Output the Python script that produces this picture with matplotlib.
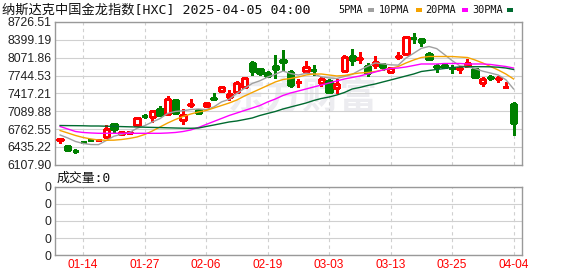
import numpy as np
import matplotlib.pyplot as plt
from matplotlib.patches import Rectangle

# daily candles, 2025-01-08 .. 2025-04-04
opens = [6566, 6456, 6368, 6525, 6560, 6552, 6622, 6855, 6680, 6690,
         6836, 7005, 6989, 7124, 7038, 7295, 6932, 7208, 7112, 7176,
         7330, 7466, 7345, 7442, 7534, 7965, 7864, 7785, 7919, 8029,
         7803, 7620, 7833, 7846, 7602, 7644, 7510, 7833, 8103, 8055,
         7925, 7937, 7955, 7814, 8085, 8134, 8440, 8415, 8134, 7912,
         7937, 7880, 7865, 7919, 7859, 7613, 7712, 7680, 7534, 7222]
highs = [6574, 6475, 6396, 6548, 6565, 6562, 6836, 6864, 6726, 6732,
         6989, 7033, 7112, 7185, 7370, 7300, 7125, 7308, 7125, 7240,
         7430, 7552, 7479, 7644, 7717, 8011, 7882, 7830, 8121, 8213,
         7846, 7680, 8011, 7937, 7723, 7681, 7681, 8121, 8226, 8170,
         7969, 8108, 7980, 7906, 8170, 8470, 8530, 8420, 8182, 7950,
         7945, 7937, 7925, 8042, 7877, 7708, 7754, 7736, 7632, 7264]
lows = [6515, 6372, 6328, 6500, 6548, 6550, 6616, 6695, 6652, 6666,
        6836, 6959, 6897, 7010, 7038, 7033, 6855, 7172, 7045, 7170,
        7295, 7447, 7295, 7436, 7520, 7760, 7760, 7720, 7693, 7846,
        7530, 7530, 7827, 7754, 7552, 7429, 7429, 7827, 7937, 7968,
        7736, 7877, 7846, 7809, 8042, 8121, 8335, 8286, 8029, 7815,
        7890, 7796, 7796, 7901, 7699, 7552, 7662, 7632, 7530, 6653]
closes = [6572, 6383, 6363, 6520, 6552, 6560, 6758, 6758, 6700, 6705,
          6959, 7000, 7093, 7014, 7308, 7062, 7014, 7220, 7051, 7235,
          7322, 7528, 7400, 7602, 7693, 7830, 7785, 7735, 7859, 7998,
          7565, 7632, 7906, 7840, 7675, 7448, 7583, 8090, 8029, 8065,
          7796, 7998, 7906, 7877, 8100, 8446, 8430, 8360, 8048, 7906,
          7906, 7875, 7875, 7978, 7717, 7675, 7706, 7695, 7540, 6879]

ma5 = [6653, 6598, 6534, 6497, 6478, 6476, 6551, 6630, 6666, 6696,
       6776, 6824, 6891, 6954, 7050, 7085, 7098, 7120, 7130, 7118,
       7168, 7260, 7307, 7417, 7509, 7599, 7648, 7716, 7767, 7826,
       7781, 7753, 7786, 7770, 7720, 7700, 7690, 7727, 7765, 7843,
       7913, 7975, 7959, 7940, 7935, 8065, 8152, 8243, 8277, 8238,
       8130, 8019, 7922, 7908, 7870, 7824, 7790, 7754, 7667, 7499]
ma10 = [6735, 6690, 6644, 6607, 6580, 6561, 6556, 6558, 6570, 6589,
        6616, 6662, 6726, 6800, 6873, 6937, 6992, 7038, 7075, 7102,
        7148, 7194, 7240, 7295, 7369, 7433, 7497, 7561, 7626, 7671,
        7690, 7717, 7754, 7772, 7772, 7754, 7736, 7745, 7772, 7791,
        7800, 7818, 7846, 7873, 7910, 7974, 8029, 8075, 8093, 8093,
        8093, 8093, 8084, 8075, 8029, 7974, 7910, 7846, 7772, 7681]
ma20 = [6809, 6763, 6717, 6699, 6690, 6684, 6684, 6684, 6684, 6684,
        6684, 6684, 6684, 6684, 6690, 6699, 6717, 6745, 6791, 6846,
        6901, 6956, 7011, 7057, 7103, 7148, 7194, 7259, 7313, 7378,
        7424, 7460, 7497, 7534, 7570, 7607, 7644, 7681, 7708, 7736,
        7772, 7809, 7846, 7873, 7882, 7901, 7928, 7956, 7956, 7956,
        7965, 7965, 7965, 7956, 7956, 7956, 7947, 7928, 7910, 7882]
ma30 = [6827, 6825, 6824, 6822, 6818, 6818, 6814, 6811, 6807, 6803,
        6800, 6796, 6792, 6789, 6785, 6781, 6778, 6776, 6781, 6809,
        6836, 6864, 6892, 6910, 6937, 6965, 7011, 7048, 7084, 7130,
        7167, 7203, 7240, 7286, 7323, 7350, 7387, 7433, 7497, 7525,
        7561, 7589, 7626, 7662, 7699, 7736, 7772, 7818, 7837, 7855,
        7873, 7892, 7901, 7906, 7906, 7906, 7904, 7897, 7882, 7855]

y_ticks = [6107.90, 6435.22, 6762.55, 7089.88, 7417.21,
           7744.53, 8071.86, 8399.19, 8726.51]
date_labels = ['01-14', '01-27', '02-06', '02-19', '03-03', '03-13', '03-25', '04-04']
date_pos = [3, 11, 19, 27, 35, 43, 51, 59]

RED = '#ff0000'
GREEN = '#008000'
GRID = '#d0d0d0'
FRAME = '#999999'
num_font = ['Liberation Sans', 'Noto Sans CJK SC']
mono_cjk = ['DejaVu Sans Mono', 'Noto Sans CJK SC']

fig = plt.figure(figsize=(5.78, 2.76), dpi=100)
ax = fig.add_axes([0.0960, 0.4033, 0.8071, 0.5170])
axv = fig.add_axes([0.0960, 0.0750, 0.8071, 0.2486])

n = len(closes)
x = np.arange(n)
w = 0.68

# candles
for i in range(n):
    o, h, l, c = opens[i], highs[i], lows[i], closes[i]
    col = RED if c >= o else GREEN
    ax.vlines(i, l, h, color=col, lw=1.0, zorder=3, antialiased=False)
    face = 'white' if c >= o else col
    ax.add_patch(Rectangle((i - w / 2, min(o, c)), w, abs(c - o), facecolor=face,
                           edgecolor=col, lw=1.0, zorder=4, antialiased=False))

# moving averages
ax.plot(x, ma5, color='#a0a0a0', lw=1.0, zorder=5)
ax.plot(x, ma10, color='#f5a300', lw=1.0, zorder=5)
ax.plot(x, ma20, color='#ff00ff', lw=1.0, zorder=5)
ax.plot(x, ma30, color='#006a30', lw=1.0, zorder=5)

# watermark
ax.text(0.53, 0.47, '东方财富', transform=ax.transAxes, ha='center', va='center',
        fontsize=27, fontweight='bold', color='#ececf0', family='Noto Sans CJK SC',
        zorder=0)

for a in (ax, axv):
    a.set_xlim(-0.6, 60.1)
    for s in a.spines.values():
        s.set_color(FRAME)
        s.set_linewidth(1.0)
    for p in date_pos:
        a.axvline(p, color=GRID, lw=0.8, ls=(0, (3, 3)), zorder=1)
    a.tick_params(length=0)

ax.set_ylim(y_ticks[0], y_ticks[-1])
ax.set_yticks(y_ticks)
ax.set_yticklabels([f'{v:.2f}' for v in y_ticks], family=num_font, fontsize=8.8,
                   color='#222222')
ax.tick_params(axis='y', pad=3)
ax.set_xticks([])
ax.grid(axis='y', color=GRID, lw=0.8, zorder=1)

vol_ticks = [0, 1, 2, 3, 4]
axv.set_ylim(0, 4)
axv.set_yticks(vol_ticks)
axv.set_yticklabels(['0'] * len(vol_ticks), family=num_font, fontsize=8.8,
                    color='#222222')
axv.tick_params(axis='y', pad=3)
axv.grid(axis='y', color=GRID, lw=0.8, zorder=1)
axv.set_xticks(date_pos)
axv.set_xticklabels(date_labels, family=num_font, fontsize=8.6, color=RED)
axv.tick_params(axis='x', pad=3)

# title and legend
fig.text(2 / 578, 1 - 10 / 276, '纳斯达克中国金龙指数[HXC] 2025-04-05 04:00',
         family=mono_cjk, fontsize=9.5, va='center', ha='left', color='#111111')
legend_items = [('5PMA', '#a0a0a0', 338, 368), ('10PMA', '#f5a300', 379, 416),
                ('20PMA', '#ff00ff', 425, 462), ('30PMA', '#006a30', 472, 507)]
for label, col, tx, sx in legend_items:
    fig.text(tx / 578, 1 - 10 / 276, label, family='DejaVu Sans Mono', fontsize=7.4,
             va='center', ha='left', color='#111111')
    fig.patches.append(Rectangle((sx / 578, 1 - 12 / 276), 6 / 578, 4 / 276,
                                 transform=fig.transFigure, facecolor=col,
                                 edgecolor='none'))

fig.text(57 / 578, 1 - 178 / 276, '成交量:0', family=mono_cjk, fontsize=9.3,
         va='center', ha='left', color='#111111')

fig.savefig('out.png', dpi=100)
